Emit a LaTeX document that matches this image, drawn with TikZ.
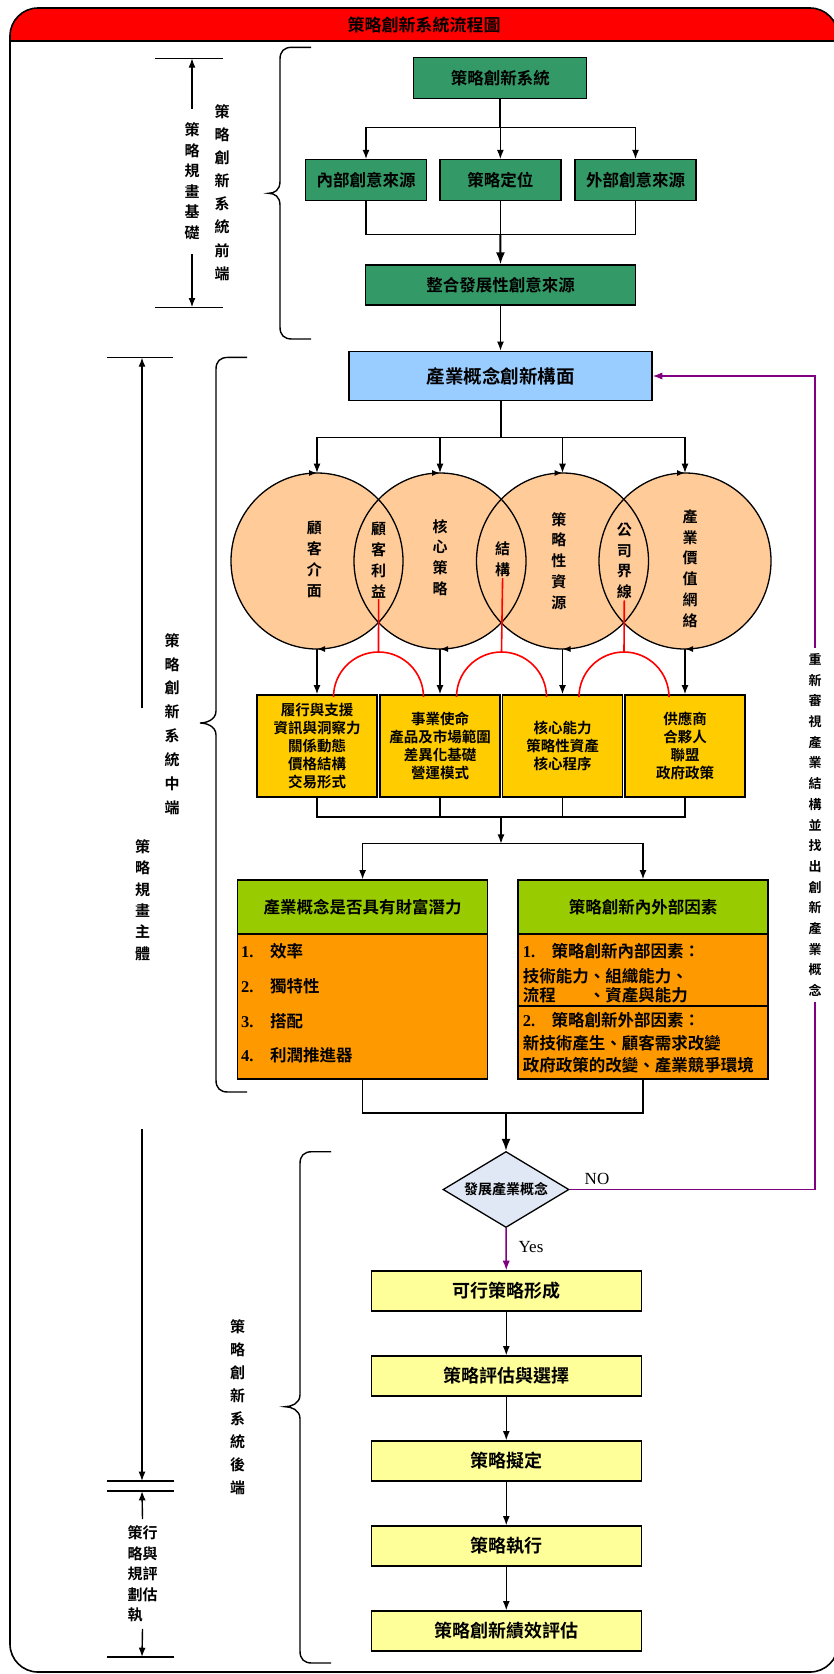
\documentclass[tikz,border=0pt]{standalone}
\usepackage{fontspec}
\setmainfont{Liberation Serif}
\newfontfamily\cjk{Noto Sans CJK TC}[BoldFont={Noto Sans CJK TC Bold}]
\usetikzlibrary{arrows.meta,positioning,shapes.geometric,calc,decorations.markings}
\definecolor{sgreen}{RGB}{51,153,102}
\definecolor{sblue}{RGB}{153,204,255}
\definecolor{speach}{RGB}{255,204,153}
\definecolor{sgold}{RGB}{255,204,0}
\definecolor{slime}{RGB}{153,204,0}
\definecolor{sorange}{RGB}{255,153,0}
\definecolor{spale}{RGB}{255,255,153}
\definecolor{sgrey}{RGB}{225,232,245}
\definecolor{spurple}{RGB}{128,0,128}

\begin{document}
\begin{tikzpicture}[x=1pt,y=-1pt,every node/.style={font=\cjk\bfseries},
      gbox/.style={draw,line width=1.3pt,fill=sgreen,minimum height=41,inner sep=0,font=\cjk\bfseries\fontsize{16.5}{20}\selectfont},
      ybox/.style={draw,line width=1.3pt,fill=sgold,minimum width=120,minimum height=102,inner sep=0,align=center,font=\cjk\bfseries\fontsize{14.5}{18}\selectfont},
      pbox/.style={draw,line width=1.3pt,fill=spale,minimum width=270,minimum height=40,inner sep=0,font=\cjk\bfseries\fontsize{18}{20}\selectfont},
      hbox/.style={draw,line width=1.3pt,fill=slime,minimum width=250,minimum height=54,inner sep=0,font=\cjk\bfseries\fontsize{16.5}{20}\selectfont},
      obox/.style={draw,line width=1.3pt,fill=sorange,minimum width=250,inner sep=0},
      itm/.style={anchor=west,inner sep=0,font=\cjk\bfseries\fontsize{16.5}{20}\selectfont},
      blob/.style={ellipse,fill=speach,minimum width=172,minimum height=176,inner sep=0,outer sep=0},
      vtxt/.style={align=center,inner sep=1,font=\cjk\bfseries\fontsize{15}{#1}\selectfont},
      vtxt/.default=20.8,
      link/.style={line width=1.4pt},
      thk/.style={line width=2pt},
      flow/.style={line width=1.4pt,-{Latex}},
      rd/.style={red,line width=1.6pt},
      pl/.style={spurple,line width=1.5pt}]
    \useasboundingbox (0,0) rectangle (834,1674);
    % frame and title bar
    \fill[red] (10,40.7) [rounded corners=28] -- (10,8) -- (838,8) [sharp corners] -- (838,40.7) -- cycle;
    \draw[line width=1.6pt,rounded corners=28] (10,8) rectangle (838,1672);
    \draw[line width=1.6pt] (10,40.7) -- (838,40.7);
    \node[font=\cjk\bfseries\fontsize{17}{20}\selectfont] (ttl) at (424,25) {策略創新系統流程圖};
    % front end
    \node[gbox,minimum width=173] (sys)  at (500.3,78) {策略創新系統};
    \node[gbox,minimum width=121] (src1) at (366,180.3) {內部創意來源};
    \node[gbox,minimum width=121] (pos)  at (500.4,180.3) {策略定位};
    \node[gbox,minimum width=121] (src2) at (635.5,180.3) {外部創意來源};
    \node[gbox,minimum width=270,minimum height=40] (intg) at (500.5,285) {整合發展性創意來源};
    \coordinate (s1) at (500.3,127.7);
    \draw[thk] (sys.south) -- (s1);
    \foreach \n in {src1,pos,src2}{\draw[flow] (s1) -| (\n.north);}
    \coordinate (m1) at (500.4,234.3);
    \foreach \n in {src1,pos,src2}{\draw[link] (\n.south) |- (m1);}
    \draw[flow,thk] (m1) -- (intg.north);
    % middle
    \node[draw,line width=1.3pt,fill=sblue,minimum width=303,minimum height=49,font=\cjk\bfseries\fontsize{18.5}{20}\selectfont] (ind) at (500.5,376) {產業概念創新構面};
    \draw[flow] (intg.south) -- (ind.north);
    \foreach \x [count=\i] in {317,440,562.5,685}{\node[blob] (e\i) at (\x,561) {};}
    \foreach \n in {e1,e2,e3,e4}{\draw[line width=1.3pt,postaction={decorate},decoration={markings,mark=at position 0.25 with {\arrow{Latex[length=8pt]}},mark=at position 0.75 with {\arrow{Latex[length=8pt]}}}] (\n.center) ellipse [x radius=86,y radius=88];}
    \coordinate (s2) at (500.5,437.7);
    \draw[thk] (ind.south) -- (s2);
    \foreach \n in {e1,e2,e3,e4}{\draw[flow] (s2) -| (\n.north);}
    \node[vtxt] (t1) at (314.4,559.5) {顧\\客\\介\\面};
    \node[vtxt] (t2) at (440,557.5) {核\\心\\策\\略};
    \node[vtxt] (t3) at (558.8,561) {策\\略\\性\\資\\源};
    \node[vtxt] (t4) at (690,568.5) {產\\業\\價\\值\\網\\絡};
    \node[vtxt] (l1) at (378.6,560) {顧\\客\\利\\益};
    \node[vtxt] (l2) at (502.6,559.5) {結\\構};
    \node[vtxt] (l3) at (624.3,561) {公\\司\\界\\線};
    \node[ybox] (y1) at (317,746) {履行與支援\\資訊與洞察力\\關係動態\\價格結構\\交易形式};
    \node[ybox] (y2) at (440,746) {事業使命\\產品及市場範圍\\差異化基礎\\營運模式};
    \node[ybox] (y3) at (562.5,746) {核心能力\\策略性資產\\核心程序};
    \node[ybox] (y4) at (685,746) {供應商\\合夥人\\聯盟\\政府政策};
    \foreach \i in {1,...,4}{\draw[flow] (e\i.south) -- (y\i.north);}
    \foreach \i/\x in {1/378.5,2/501.5,3/624}{
      \coordinate (r\i) at (\x,652);
      \draw[rd] (l\i.south) -- (r\i);
      \draw[rd] ($(r\i)+(-45,45)$) arc[start angle=180,end angle=360,radius=45];
    }
    \coordinate (m2) at (501,817);
    \foreach \n in {y1,y2,y3,y4}{\draw[link] (\n.south) |- (m2);}
    \coordinate (s3) at (501,843.7);
    \draw[flow] (m2) -- (s3);
    \node[hbox] (gh1) at (362.6,907) {產業概念是否具有財富潛力};
    \node[obox,minimum height=145] (ob1) at (362.6,1006.5) {};
    \node[hbox] (gh2) at (643,907) {策略創新內外部因素};
    \node[obox,minimum height=72] (ob2a) at (643,970) {};
    \node[obox,minimum height=73] (ob2b) at (643,1042.5) {};
    \draw[flow] (s3) -| (gh1.north);
    \draw[flow] (s3) -| (gh2.north);
    \foreach \t/\y [count=\i] in {效率/951,獨特性/986,搭配/1021,利潤推進器/1055}{
      \node[itm] (p\i) at (241,\y) {{\rmfamily\i.}\quad\t};}
    \node[itm] (q1) at (522.6,950.7) {{\rmfamily 1.}\quad 策略創新內部因素：};
    \node[itm] (q2) at (522.6,976) {技術能力、組織能力、};
    \node[itm] (q3) at (522.6,995) {流程\hspace{2em}、資產與能力};
    \node[itm] (q4) at (522.6,1020) {{\rmfamily 2.}\quad 策略創新外部因素：};
    \node[itm] (q5) at (522.6,1043.3) {新技術產生、顧客需求改變};
    \node[itm] (q6) at (522.6,1065) {政府政策的改變、產業競爭環境};
    % back end
    \coordinate (m3) at (506,1113);
    \draw[link] (ob1.south) |- (m3);
    \draw[link] (ob2b.south) |- (m3);
    \node[draw,diamond,aspect=1.66,fill=sgrey,line width=1.3pt,minimum width=126,minimum height=76,inner sep=0,font=\cjk\bfseries\fontsize{14}{16}\selectfont] (dia) at (506,1189.5) {發展產業概念};
    \draw[flow,thk] (m3) -- (dia.north);
    \foreach \t/\y [count=\i] in {可行策略形成/1291,策略評估與選擇/1376,策略擬定/1461,策略執行/1546,策略創新績效評估/1631}{
      \node[pbox] (b\i) at (506.3,\y) {\t};}
    \foreach \a/\b in {b1/b2,b2/b3,b3/b4,b4/b5}{\draw[flow] (\a) -- (\b);}
    \draw[pl,-{Latex}] (dia.south) -- (b1.north);
    \node[font=\rmfamily\fontsize{17}{20}\selectfont] (yes) at (531,1247) {Yes};
    \node[font=\rmfamily\fontsize{17}{20}\selectfont] (no) at (597,1179) {NO};
    % feedback loop
    \node[vtxt=20.7,font=\cjk\bfseries\fontsize{13}{20.7}\selectfont,inner sep=5] (rv) at (815,825) {重\\新\\審\\視\\產\\業\\結\\構\\並\\找\\出\\創\\新\\產\\業\\概\\念};
    \coordinate (nc) at (815,1189.5);
    \draw[pl] (dia.east) -- (nc) -- (rv.south);
    \draw[pl,-{Latex}] (rv.north) |- (ind.east);
    % braces
    \foreach \bx/\tx/\ya/\ym/\yb in {280/268.4/47.3/193.3/339,216/200/357.4/723/1092,300/285/1151.7/1406.7/1663}{
      \draw[link] (\bx+31,\ya) -- (\bx+12,\ya) .. controls (\bx+4,\ya) and (\bx,\ya+4) .. (\bx,\ya+12) -- (\bx,\ym-12) .. controls (\bx,\ym-3) and (\tx+6,\ym) .. (\tx,\ym) .. controls (\tx+6,\ym) and (\bx,\ym+3) .. (\bx,\ym+12) -- (\bx,\yb-12) .. controls (\bx,\yb-4) and (\bx+4,\yb) .. (\bx+12,\yb) -- (\bx+31,\yb);}
    \node[vtxt=23.1] (fA) at (222,192.5) {策\\略\\創\\新\\系\\統\\前\\端};
    \node[vtxt=23.9] (fB) at (172,724) {策\\略\\創\\新\\系\\統\\中\\端};
    \node[vtxt=23] (fC) at (237.5,1407.5) {策\\略\\創\\新\\系\\統\\後\\端};
    % dimension marks
    \foreach \y/\a/\b in {58.3/155/223,307.3/155/223,357.4/107/173,1481/107/174,1491/107/174,1657/107/174}{
      \draw[link] (\a,\y) -- (\b,\y);}
    \node[vtxt=20.5,inner ysep=14] (dA) at (192,181.5) {策\\略\\規\\畫\\基\\礎};
    \coordinate (tA1) at (192,58.3);
    \coordinate (tA2) at (192,307.3);
    \draw[flow] (dA.north) -- (tA1);
    \draw[flow] (dA.south) -- (tA2);
    \node[vtxt=21.4] (dB) at (142.7,900) {策\\略\\規\\畫\\主\\體};
    \coordinate (mB0) at (142,357.4);
    \coordinate (mB1) at (142,708);
    \coordinate (mB2) at (142,1129);
    \coordinate (mB3) at (142,1481);
    \draw[flow] (mB1) -- (mB0);
    \draw[flow] (mB2) -- (mB3);
    \node[vtxt=20.5,align=left,inner ysep=6.5] (dC) at (142.5,1574) {策行\\略與\\規評\\劃估\\執};
    \coordinate (tC1) at (142,1491);
    \coordinate (tC2) at (142,1657);
    \draw[flow] (dC.north) -- (tC1);
    \draw[flow] (dC.south) -- (tC2);
  \end{tikzpicture}
\end{document}
